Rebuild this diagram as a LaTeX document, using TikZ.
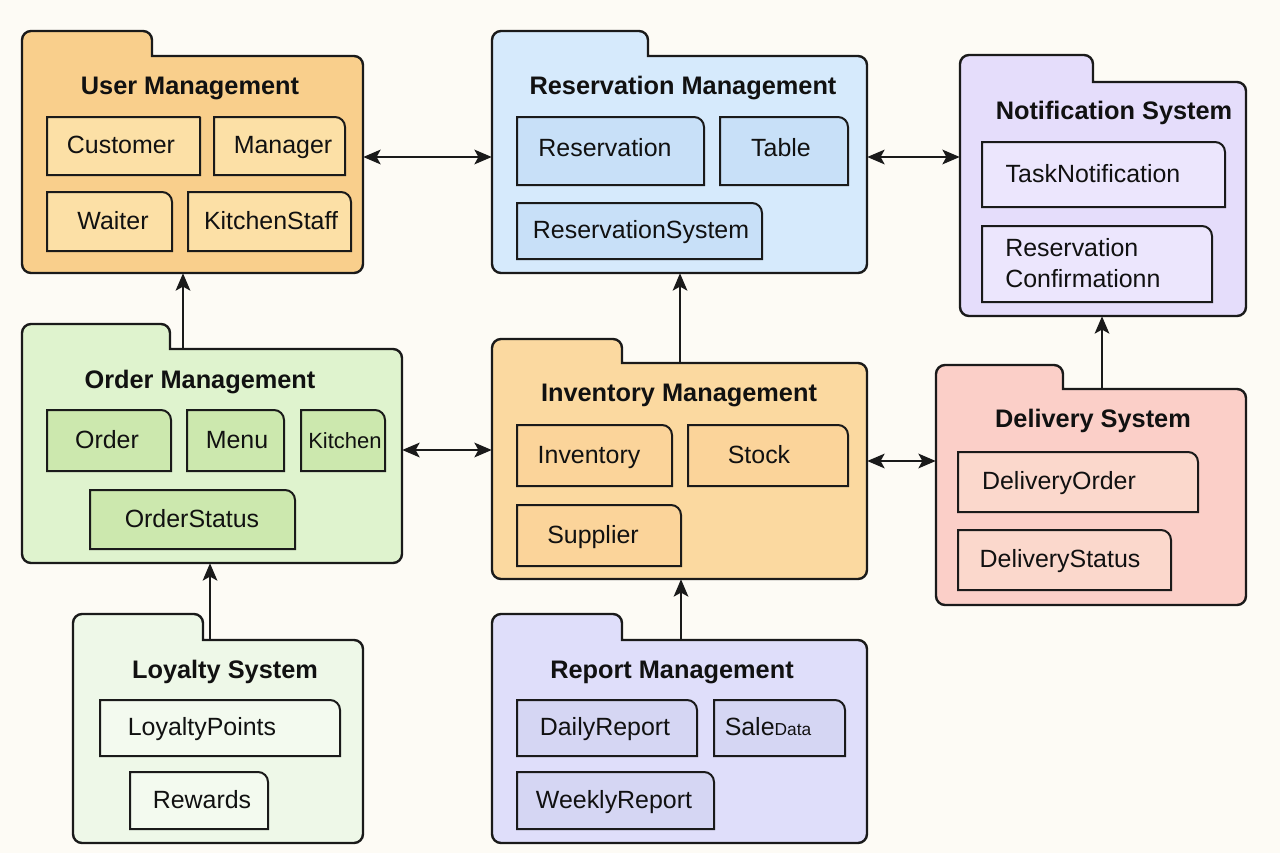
\documentclass[tikz,border=0pt]{standalone}
\usepackage{fontspec}
\setmainfont{Liberation Sans}
\usetikzlibrary{arrows.meta,fit}
\definecolor{bg}{HTML}{FDFBF5}
\definecolor{linec}{HTML}{1A1A1A}
\definecolor{txt}{HTML}{111111}
\definecolor{userF}{HTML}{F9CF8C}\definecolor{userI}{HTML}{FCE0A6}
\definecolor{resF}{HTML}{D6EAFC}\definecolor{resI}{HTML}{C8E0F8}
\definecolor{notF}{HTML}{E5DDFB}\definecolor{notI}{HTML}{ECE6FD}
\definecolor{ordF}{HTML}{DFF3CE}\definecolor{ordI}{HTML}{CCE8AE}
\definecolor{invF}{HTML}{FBD9A0}\definecolor{invI}{HTML}{FBD49A}
\definecolor{delF}{HTML}{FBCFC8}\definecolor{delI}{HTML}{FBD8CC}
\definecolor{loyF}{HTML}{EEF8E8}\definecolor{loyI}{HTML}{F3FAEF}
\definecolor{repF}{HTML}{DFDEFA}\definecolor{repI}{HTML}{D5D6F3}
\tikzset{
  pkgline/.style={line width=1.8pt, draw=linec},
  clsline/.style={line width=1.5pt, draw=linec},
  ttl/.style={font=\bfseries\fontsize{19}{22}\selectfont, text=txt, inner sep=0, anchor=base},
  ctext/.style={font=\fontsize{18.7}{23}\selectfont, text=txt, inner sep=0},
  arr/.style={line width=1.5pt, draw=linec, -{Stealth[length=13pt,width=11pt,inset=3pt]}},
  dbl/.style={line width=1.5pt, draw=linec, {Stealth[length=13pt,width=11pt,inset=3pt]}-{Stealth[length=13pt,width=11pt,inset=3pt]}},
}
% name, left, right, tabtop, tabright, bodytop, bottom, fill
\newcommand\pkgbox[8]{%
  \draw[pkgline, fill=#8] (#2,{#7-9}) -- (#2,{#4+9}) arc(180:270:9) -- ({#5-9},#4) arc(-90:0:9)
     -- (#5,#6) -- ({#3-9},#6) arc(-90:0:9) -- (#3,{#7-9}) arc(0:90:9) -- ({#2+9},#7) arc(90:180:9) -- cycle;
  \node[fit={(#2,#6) (#3,#7)}, inner sep=0, draw=none] (#1) {};
}
% shape only: x1, y1, x2, y2, fill, radius
\newcommand\clsshape[6]{%
  \draw[clsline, fill=#5] (#1,#4) -- (#1,#2) -- ({#3-#6},#2) arc(-90:0:#6) -- (#3,#4) -- cycle;
}
% name, x1, y1, x2, y2, fill, radius, text x, text
\newcommand\clsbox[9]{%
  \clsshape{#2}{#3}{#4}{#5}{#6}{#7}
  \node[ctext, anchor=base] (#1) at (#8,{(#3+#5)/2+7.5}) {#9};
}
\begin{document}
\begin{tikzpicture}[x=0.75pt,y=-0.75pt]
\fill[bg] (0,0) rectangle (1280,853);
\useasboundingbox (0,0) rectangle (1280,853);

% packages
\pkgbox{pUser}{22}{363}{31}{152}{56}{273}{userF}
\pkgbox{pRes}{492}{867}{31}{648}{56}{273}{resF}
\pkgbox{pNot}{960}{1246}{55}{1093}{82}{316}{notF}
\pkgbox{pOrd}{22}{402}{324}{170}{349}{563}{ordF}
\pkgbox{pInv}{492}{867}{339}{622}{363}{579}{invF}
\pkgbox{pDel}{936}{1246}{365}{1063}{389}{605}{delF}
\pkgbox{pLoy}{73}{363}{614}{203}{640}{843}{loyF}
\pkgbox{pRep}{492}{867}{614}{622}{640}{843}{repF}

% titles (base line = visual centre + 9px)
\node[ttl] (tUser) at (190,94) {User Management};
\node[ttl] (tRes) at (683,94) {Reservation Management};
\node[ttl] (tNot) at (1114,119) {Notification System};
\node[ttl] (tOrd) at (200,388) {Order Management};
\node[ttl] (tInv) at (679,401) {Inventory Management};
\node[ttl] (tDel) at (1093,427) {Delivery System};
\node[ttl] (tLoy) at (225,678) {Loyalty System};
\node[ttl] (tRep) at (672,678) {Report Management};

% User Management
\clsbox{customer}{47}{117}{200}{175}{userI}{0.5}{121}{Customer}
\clsbox{manager}{214}{117}{345}{175}{userI}{10}{283}{Manager}
\clsbox{waiter}{47}{192}{172}{251}{userI}{10}{113}{Waiter}
\clsbox{kstaff}{188}{192}{351}{251}{userI}{10}{271}{KitchenStaff}

% Reservation Management
\clsshape{517}{117}{704}{185}{resI}{10}
\node[ctext, anchor=base] (reservation) at (605,156) {Reservation};
\clsshape{720}{117}{848}{185}{resI}{10}
\node[ctext, anchor=base] (table) at (781,156) {Table};
\clsbox{ressys}{517}{203}{762}{259}{resI}{10}{641}{ReservationSystem}

% Notification System
\clsbox{tasknot}{982}{142}{1225}{207}{notI}{10}{1093}{TaskNotification}
\clsshape{982}{226}{1212}{302}{notI}{10}
\node[ctext, align=left, anchor=base west] (resconf) at (1005,287) {Reservation\\Confirmationn};

% Order Management
\clsbox{order}{47}{410}{171}{471}{ordI}{10}{107}{Order}
\clsbox{menu}{187}{410}{284}{471}{ordI}{10}{237}{Menu}
\clsbox{kitchen}{301}{410}{385}{471}{ordI}{10}{345}{\fontsize{16.5}{20}\selectfont Kitchen}
\clsbox{ostatus}{90}{490}{295}{549}{ordI}{10}{192}{OrderStatus}

% Inventory Management
\clsbox{inventory}{517}{425}{672}{486}{invI}{10}{589}{Inventory}
\clsbox{stock}{688}{425}{848}{486}{invI}{10}{759}{Stock}
\clsbox{supplier}{517}{505}{681}{566}{invI}{10}{593}{Supplier}

% Delivery System
\clsbox{delorder}{958}{452}{1198}{512}{delI}{10}{1059}{DeliveryOrder}
\clsbox{delstatus}{958}{530}{1171}{590}{delI}{10}{1060}{DeliveryStatus}

% Loyalty System
\clsbox{lpoints}{100}{700}{340}{756}{loyI}{10}{202}{LoyaltyPoints}
\clsbox{rewards}{130}{772}{268}{829}{loyI}{10}{202}{Rewards}

% Report Management
\clsbox{daily}{517}{700}{697}{756}{repI}{10}{605}{DailyReport}
\clsbox{saledata}{714}{700}{845}{756}{repI}{10}{768}{Sale{\fontsize{13}{16}\selectfont Data}}
\clsbox{weekly}{517}{772}{714}{829}{repI}{10}{614}{WeeklyReport}

% connectors
\draw[dbl] (pUser.east |- 0,157) -- (pRes.west |- 0,157);
\draw[dbl] (pRes.east |- 0,157) -- (pNot.west |- 0,157);
\draw[dbl] (pOrd.east |- 0,450) -- (pInv.west |- 0,450);
\draw[dbl] (pInv.east |- 0,461) -- (pDel.west |- 0,461);
\draw[arr] (pOrd.north -| 183,0) -- (pUser.south -| 183,0);
\draw[arr] (pInv.north -| 680,0) -- (pRes.south -| 680,0);
\draw[arr] (pDel.north -| 1102,0) -- (pNot.south -| 1102,0);
\draw[arr] (pLoy.north -| 210,0) -- (pOrd.south -| 210,0);
\draw[arr] (pRep.north -| 681,0) -- (pInv.south -| 681,0);
\end{tikzpicture}
\end{document}
